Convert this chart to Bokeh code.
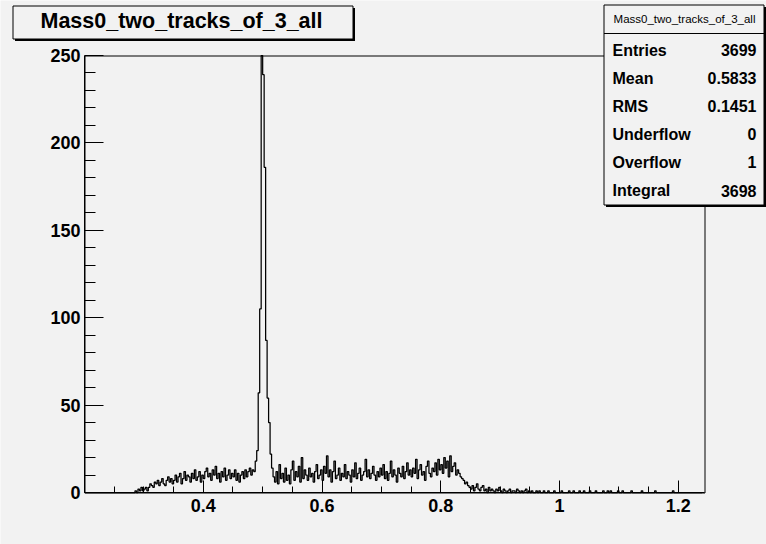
import numpy as np
from bokeh.plotting import figure
from bokeh.models import (FixedTicker, CustomJSTickFormatter, Label, BoxAnnotation, Range1d)
from bokeh.embed import file_html
from bokeh.resources import INLINE

# ---------------- data ----------------
title_text = "Mass0_two_tracks_of_3_all"
stat_names = ["Entries", "Mean", "RMS", "Underflow", "Overflow", "Integral"]
stat_values = ["3699", "0.5833", "0.1451", "0", "1", "3698"]

x_ticks = [0.4, 0.6, 0.8, 1.0, 1.2]
x_tick_labels = ["0.4", "0.6", "0.8", "1", "1.2"]
x_minor_ticks = [0.25, 0.3, 0.35, 0.45, 0.5, 0.55, 0.65, 0.7, 0.75,
                 0.85, 0.9, 0.95, 1.05, 1.1, 1.15]
y_ticks = [0, 50, 100, 150, 200, 250]
y_tick_labels = ["0", "50", "100", "150", "200", "250"]
y_minor_ticks = [10, 20, 30, 40, 60, 70, 80, 90, 110, 120, 130, 140,
                 160, 170, 180, 190, 210, 220, 230, 240]

bin_low = 0.2
bin_width = 0.0025
counts = [
    0, 0, 0, 0, 0, 0, 0, 0, 0, 0, 0, 0, 0, 0, 0, 0, 0, 0, 0, 0,
    0, 0, 0, 0, 0, 0, 0, 0, 0, 0, 0, 0, 0, 0, 1, 0, 2, 1, 3, 1,
    2, 3, 1, 3, 5, 4, 3, 6, 5, 7, 4, 6, 8, 5, 4, 7, 9, 6, 8, 5,
    7, 10, 6, 9, 11, 5, 8, 12, 7, 10, 9, 6, 11, 8, 13, 7, 9, 12, 6, 10,
    8, 12, 14, 9, 11, 7, 13, 10, 15, 8, 11, 6, 12, 9, 14, 7, 10, 13, 8, 11,
    9, 13, 7, 11, 6, 10, 12, 8, 13, 9, 12, 14, 10, 13, 12, 18, 24, 57, 105, 250,
    239, 186, 87, 54, 40, 22, 14, 9, 6, 12, 5, 16, 8, 11, 6, 14, 7, 10, 5, 13,
    18, 7, 12, 9, 15, 6, 20, 8, 13, 10, 7, 14, 9, 11, 6, 12, 16, 8, 10, 13,
    7, 15, 11, 21, 9, 13, 6, 12, 18, 8, 10, 14, 7, 11, 9, 16, 8, 12, 10, 6,
    13, 9, 17, 8, 11, 14, 7, 10, 12, 19, 9, 13, 8, 11, 15, 10, 7, 12, 9, 14,
    10, 16, 8, 12, 7, 11, 18, 9, 13, 10, 6, 14, 11, 9, 15, 8, 12, 17, 10, 13,
    9, 14, 11, 19, 8, 13, 16, 10, 12, 7, 15, 18, 11, 9, 14, 12, 17, 10, 19, 13,
    16, 11, 20, 14, 18, 9, 21, 12, 15, 17, 10, 13, 11, 9, 8, 7, 5, 6, 4, 3,
    2, 4, 1, 3, 5, 2, 1, 3, 4, 1, 2, 0, 3, 1, 2, 1, 0, 2, 1, 3,
    1, 0, 2, 1, 0, 1, 2, 0, 1, 1, 0, 2, 1, 0, 1, 0, 1, 2, 0, 1,
    0, 1, 0, 0, 1, 0, 1, 0, 0, 1, 0, 0, 1, 0, 0, 0, 1, 0, 0, 0,
    0, 1, 0, 0, 0, 0, 1, 0, 0, 1, 0, 0, 0, 1, 0, 0, 1, 0, 0, 0,
    1, 0, 0, 0, 1, 0, 0, 0, 0, 1, 0, 0, 1, 0, 1, 0, 0, 0, 0, 1,
    0, 0, 1, 0, 0, 0, 0, 0, 1, 0, 0, 0, 0, 0, 0, 1, 0, 0, 0, 0,
    0, 0, 0, 0, 1, 0, 0, 0, 0, 0, 0, 0, 0, 0, 0, 0, 1, 0, 0, 0,
    0, 0, 0, 0, 0, 0, 0, 0, 0, 0, 0, 0, 0, 0, 0, 0,
]

# ---------------- layout constants ----------------
W, H = 766, 544
FL, FR, FT, FB = 84, 704, 55, 492      # pixel edges of the histogram frame
X0, X1 = 0.2, 1.244                     # axis limits
Y0, Y1 = 0.0, 250.0
BG = "#f2f2f2"
FONT = "Liberation Sans"


def dx(px):
    return X0 + (px - FL) * (X1 - X0) / (FR - FL)


def dy(py):
    return Y0 + (FB - py) * (Y1 - Y0) / (FB - FT)


# the plotting area spans the whole canvas; axes are pinned at the frame edges
p = figure(width=W, height=H,
           x_range=Range1d(dx(0), dx(W)), y_range=Range1d(dy(H), dy(0)),
           output_backend="svg", toolbar_location=None,
           min_border=0, min_border_left=0, min_border_right=0,
           min_border_top=0, min_border_bottom=0)
p.title.visible = False
p.background_fill_color = BG
p.border_fill_color = BG
p.outline_line_color = None
p.xgrid.visible = False
p.ygrid.visible = False


def box(l, t, r, b, fill, line=None, fill_alpha=1.0):
    p.add_layout(BoxAnnotation(left=dx(l + 0.5), right=dx(r + 0.5),
                               top=dy(t + 0.5), bottom=dy(b + 0.5),
                               fill_color=fill, fill_alpha=fill_alpha,
                               line_color=line, line_alpha=1.0 if line else 0.0,
                               line_width=1))


def text(px, py, s, size, bold=True, align="center"):
    p.add_layout(Label(x=dx(px), y=dy(py), text=s, text_font=FONT,
                       text_font_style="bold" if bold else "normal",
                       text_font_size=size, text_align=align,
                       text_baseline="middle", text_color="black"))


# frame box
box(FL, FT, FR, FB, BG, "black", fill_alpha=0.0)

# histogram outline
edges = bin_low + bin_width * np.arange(len(counts) + 1)
ys = list(counts) + [0]
p.step(edges, ys, mode="after", line_color="black", line_width=1.25)

# axes
fmt_code = """
let best = 0;
for (let i = 0; i < vals.length; i++) {
  if (Math.abs(vals[i] - tick) < Math.abs(vals[best] - tick)) best = i;
}
return labs[best];
"""
xa = p.xaxis[0]
ya = p.yaxis[0]
xa.fixed_location = Y0
ya.fixed_location = X0
xa.bounds = (X0, X1)
ya.bounds = (Y0, Y1)
xa.ticker = FixedTicker(ticks=x_ticks, minor_ticks=x_minor_ticks)
xa.formatter = CustomJSTickFormatter(args=dict(vals=x_ticks, labs=x_tick_labels), code=fmt_code)
ya.ticker = FixedTicker(ticks=y_ticks, minor_ticks=y_minor_ticks)
ya.formatter = CustomJSTickFormatter(args=dict(vals=y_ticks, labs=y_tick_labels), code=fmt_code)

for ax in (xa, ya):
    ax.axis_line_color = "black"
    ax.axis_line_width = 1
    ax.major_tick_line_color = "black"
    ax.minor_tick_line_color = "black"
    ax.major_tick_out = 0
    ax.minor_tick_out = 0
    ax.major_label_text_font = FONT
    ax.major_label_text_font_style = "bold"
    ax.major_label_text_font_size = "18px"
    ax.major_label_text_color = "black"

xa.major_tick_in = 12
xa.minor_tick_in = 6
xa.major_label_standoff = 6
ya.major_tick_in = 19
ya.minor_tick_in = 11
ya.major_label_standoff = 4

# title pave with shadow
box(14, 7, 354, 40, "black")
box(12, 5, 352, 38, BG, "black")
text(181, 20, title_text, "21.5px")

# stats box with shadow
box(605, 6, 765, 206, "black")
box(603, 4, 763, 204, BG, "black")
box(603, 32, 763, 33, "black")
text(684, 18, title_text, "11.5px", bold=False)
for k, (name, val) in enumerate(zip(stat_names, stat_values)):
    yy = 49.5 + 28.1 * k
    text(612, yy, name, "16px", align="left")
    text(756, yy, val, "16px", align="right")

open("out.html", "w").write(file_html(p, INLINE))
